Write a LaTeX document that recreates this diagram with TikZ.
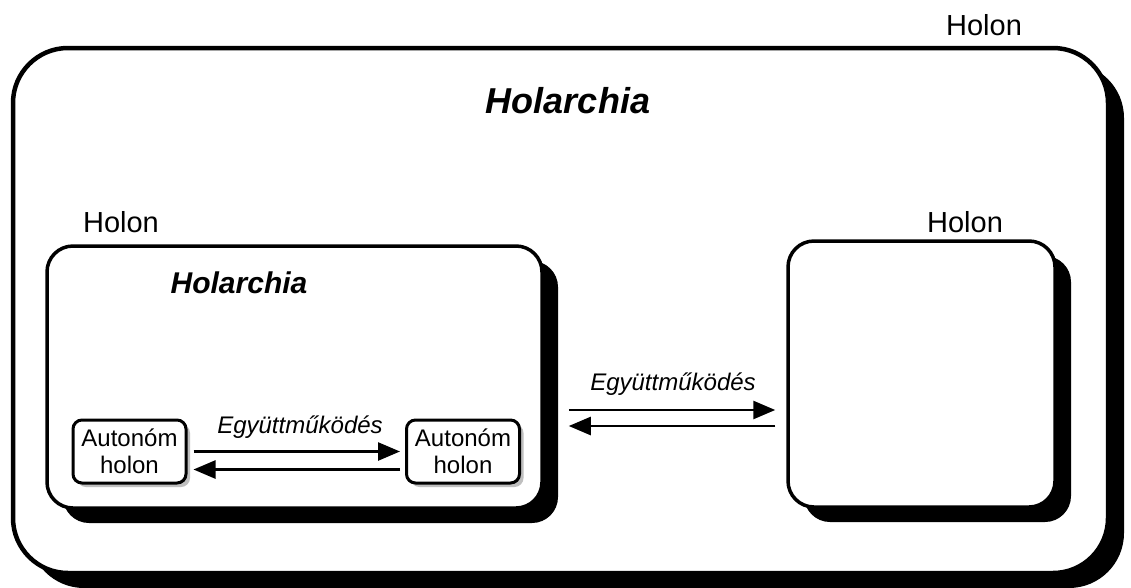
\documentclass[tikz,border=0pt]{standalone}
\usepackage{fontspec}
\setmainfont{Liberation Sans}
\usetikzlibrary{shadows,arrows.meta}

\tikzset{
  holonbox/.style={draw,line width=#1,fill=white,
    drop shadow={shadow xshift=16pt,shadow yshift=-15pt,fill=black,opacity=1}},
  autobox/.style={draw,line width=3pt,fill=white,rounded corners=9pt,
    align=center,font=\fontsize{24}{27}\selectfont,
    minimum width=113pt,minimum height=63pt,inner sep=0pt,
    drop shadow={shadow xshift=4pt,shadow yshift=-4pt,fill=black!25,opacity=1}},
  flow/.style={line width=2.6pt,-{Triangle[length=22pt,width=18pt]}},
  lbl/.style={font=\fontsize{29}{30}\selectfont},
  coop/.style={font=\fontsize{24}{26}\selectfont\itshape},
}

\begin{document}
\begin{tikzpicture}[x=1pt,y=-1pt]
\useasboundingbox (0,0) rectangle (1131,587);

% the holon that holds the holarchy
\node[holonbox=4.5pt,rounded corners=55pt,minimum width=1095pt,minimum height=525pt] (outer) at (560.5,310.5) {};
\node[lbl] (outerlbl) at (984,25) {Holon};
\node[font=\fontsize{36}{38}\selectfont\bfseries\itshape] (outertitle) at (568,101) {Holarchia};

% inner holons
\node[holonbox=3.5pt,rounded corners=26pt,minimum width=495pt,minimum height=262pt] (left) at (294.5,377) {};
\node[holonbox=3.5pt,rounded corners=26pt,minimum width=267pt,minimum height=266pt] (right) at (921.5,374) {};
\node[lbl] (leftlbl) at (121,222) {Holon};
\node[lbl] (rightlbl) at (965,222) {Holon};
\node[font=\fontsize{30}{32}\selectfont\bfseries\itshape] (lefttitle) at (239,283) {Holarchia};

% autonomous holons
\node[autobox] (auto1) at (129.5,451.5) {Autonóm\\holon};
\node[autobox] (auto2) at (463,451.5) {Autonóm\\holon};

% cooperation arrows
\draw[flow] ([xshift=6pt]auto1.east) -- ([xshift=-5pt]auto2.west);
\draw[flow] ([xshift=-5pt,yshift=-18pt]auto2.west) -- ([xshift=6pt,yshift=-18pt]auto1.east);
\node[coop] (coop1) at (300,427) {Együttműködés};

\draw[flow] ([xshift=25pt,yshift=-33pt]left.east) -- ([xshift=-11pt,yshift=-36pt]right.west);
\draw[flow] ([xshift=-11pt,yshift=-52pt]right.west) -- ([xshift=25pt,yshift=-49pt]left.east);
\node[coop] (coop2) at (673,384) {Együttműködés};
\end{tikzpicture}
\end{document}
